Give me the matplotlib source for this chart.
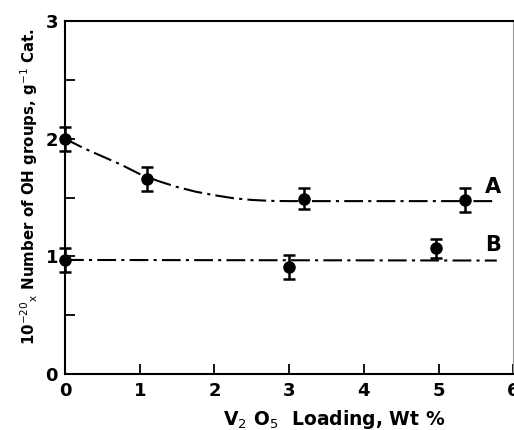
import numpy as np
import matplotlib.pyplot as plt

# measured points, sample A and B
a_x = [0.0, 1.1, 3.2, 5.35]
a_y = [2.0, 1.66, 1.49, 1.48]
a_err = [0.1, 0.1, 0.09, 0.1]
b_x = [0.0, 3.0, 4.97]
b_y = [0.97, 0.91, 1.07]
b_err = [0.1, 0.1, 0.08]

# fitted curves as drawn
a_fit_x = [0.0, 0.25, 0.5, 0.75, 1.0, 1.25, 1.5, 1.75, 2.0, 2.25, 2.5, 2.75, 3.0, 4.0, 5.0, 5.72]
a_fit_y = [2.0, 1.92, 1.85, 1.78, 1.70, 1.64, 1.59, 1.55, 1.52, 1.495, 1.48, 1.472, 1.47, 1.47, 1.47, 1.47]
b_fit_x = [0.0, 5.78]
b_fit_y = [0.97, 0.965]

plt.rcParams['font.family'] = 'DejaVu Sans'
fig = plt.figure(figsize=(5.14, 4.30), dpi=100)
ax = fig.add_axes([0.1265, 0.130, 0.872, 0.821])

dash = (0, (9, 2.5, 1.5, 2.5))
ax.plot(a_fit_x, a_fit_y, color='black', lw=1.5, linestyle=dash)
ax.plot(b_fit_x, b_fit_y, color='black', lw=1.5, linestyle=dash)

for x, y, e in [(a_x, a_y, a_err), (b_x, b_y, b_err)]:
    ax.errorbar(x, y, yerr=e, fmt='o', color='black', ms=8, capsize=4,
                elinewidth=1.8, capthick=1.8, clip_on=False, zorder=5)

ax.text(5.62, 1.59, 'A', fontsize=15, fontweight='bold', ha='left', va='center')
ax.text(5.62, 1.10, 'B', fontsize=15, fontweight='bold', ha='left', va='center')

ax.set_xlim(0, 6)
ax.set_ylim(0, 3)
ax.set_xticks(range(7))
ax.set_yticks([0, 1, 2, 3])
ax.set_yticks([0.5, 1.5, 2.5], minor=True)
ax.tick_params(which='both', direction='in', width=1.3, labelsize=13, pad=6)
ax.tick_params(which='major', length=7)
ax.tick_params(which='minor', length=7)
ax.tick_params(axis='y', pad=5)
for lab in ax.get_xticklabels() + ax.get_yticklabels():
    lab.set_fontweight('bold')

for side in ['left', 'bottom', 'top']:
    ax.spines[side].set_linewidth(1.5)
ax.spines['right'].set_linewidth(0.8)
ax.spines['right'].set_color('#999999')

ax.set_xlabel(r'V$_2$ O$_5$  Loading, Wt %', fontsize=13.5, fontweight='bold')
ax.xaxis.set_label_coords(0.60, -0.095)
ax.set_ylabel(r'10$^{-20}$$_{\rm x}$ Number of OH groups, g$^{-1}$ Cat.',
              fontsize=10.8, fontweight='bold')
ax.yaxis.set_label_coords(-0.055, 0.53)

fig.savefig('out.png', dpi=100)
